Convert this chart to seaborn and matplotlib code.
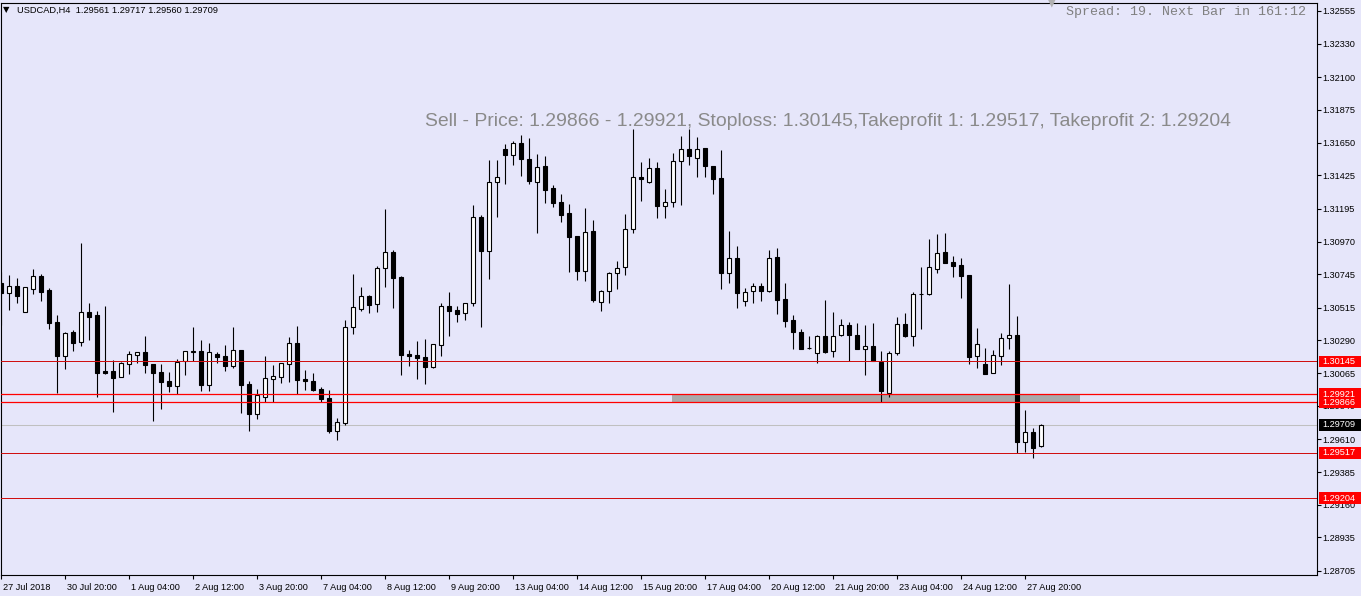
import matplotlib
matplotlib.use('Agg')
import matplotlib.pyplot as plt
import matplotlib.transforms as mtransforms
from matplotlib.patches import Rectangle
import numpy as np
import seaborn as sns

# USDCAD H4 candles, 27 Jul 2018 12:00 -> 28 Aug 2018 04:00
opens = [
    1.30685, 1.30616, 1.30665, 1.30485, 1.30644, 1.30734, 1.30637, 1.30417, 1.30183, 1.30348,
    1.30279, 1.30485, 1.30465, 1.30080, 1.30080, 1.30039, 1.30128, 1.30190, 1.30210, 1.30128,
    1.30073, 1.30011, 1.29976, 1.30149, 1.30213, 1.30217, 1.29983, 1.30197, 1.30183, 1.30114,
    1.30224, 1.29990, 1.29784, 1.29902, 1.30025, 1.30039, 1.30128, 1.30272, 1.30025, 1.30011,
    1.29956, 1.29894, 1.29667, 1.29722, 1.30382, 1.30506, 1.30596, 1.30541, 1.30788, 1.30898,
    1.30727, 1.30197, 1.30190, 1.30176, 1.30108, 1.30258, 1.30527, 1.30499, 1.30478, 1.30547,
    1.31139, 1.30905, 1.31379, 1.31606, 1.31565, 1.31648, 1.31537, 1.31379, 1.31489, 1.31338,
    1.31242, 1.31166, 1.31008, 1.30767, 1.31043, 1.30554, 1.30630, 1.30753, 1.30795, 1.31056,
    1.31414, 1.31379, 1.31475, 1.31214, 1.31242, 1.31524, 1.31606, 1.31544, 1.31613, 1.31489,
    1.31407, 1.30753, 1.30857, 1.30561, 1.30630, 1.30665, 1.30630, 1.30864, 1.30575, 1.30431,
    1.30348, 1.30238, 1.30204, 1.30320, 1.30217, 1.30327, 1.30397, 1.30327, 1.30231, 1.30252,
    1.30142, 1.29928, 1.30204, 1.30403, 1.30320, 1.30609, 1.30609, 1.30781, 1.30898, 1.30829,
    1.30809, 1.30740, 1.30183, 1.30128, 1.30066, 1.30183, 1.30307, 1.30327, 1.29594, 1.29658,
    1.29561]
highs = [
    1.30760, 1.30740, 1.30720, 1.30658, 1.30781, 1.30746, 1.30651, 1.30465, 1.30348, 1.30362,
    1.30960, 1.30547, 1.30492, 1.30527, 1.30156, 1.30142, 1.30217, 1.30210, 1.30320, 1.30128,
    1.30128, 1.30073, 1.30163, 1.30217, 1.30382, 1.30293, 1.30272, 1.30210, 1.30258, 1.30382,
    1.30224, 1.30011, 1.29956, 1.30183, 1.30121, 1.30135, 1.30313, 1.30389, 1.30087, 1.30066,
    1.29970, 1.29949, 1.29757, 1.30431, 1.30746, 1.30658, 1.30603, 1.30802, 1.31194, 1.30912,
    1.30734, 1.30224, 1.30286, 1.30300, 1.30265, 1.30547, 1.30623, 1.30527, 1.30547, 1.31221,
    1.31152, 1.31531, 1.31531, 1.31641, 1.31661, 1.31702, 1.31682, 1.31572, 1.31558, 1.31358,
    1.31297, 1.31228, 1.31008, 1.31201, 1.31118, 1.30637, 1.30760, 1.30836, 1.31159, 1.31744,
    1.31517, 1.31544, 1.31517, 1.31331, 1.31579, 1.31695, 1.31744, 1.31689, 1.31613, 1.31489,
    1.31599, 1.31043, 1.30939, 1.30651, 1.30685, 1.30685, 1.30912, 1.30926, 1.30685, 1.30465,
    1.30369, 1.30320, 1.30327, 1.30568, 1.30485, 1.30437, 1.30417, 1.30410, 1.30397, 1.30410,
    1.30217, 1.30217, 1.30451, 1.30478, 1.30623, 1.30795, 1.30988, 1.31022, 1.31029, 1.30870,
    1.30857, 1.30740, 1.30375, 1.30238, 1.30224, 1.30341, 1.30678, 1.30458, 1.29812, 1.29686,
    1.29717]
lows = [
    1.30397, 1.30499, 1.30547, 1.30485, 1.30609, 1.30561, 1.30369, 1.29928, 1.30094, 1.30217,
    1.30252, 1.30293, 1.29902, 1.30059, 1.29798, 1.30039, 1.30059, 1.30135, 1.30066, 1.29736,
    1.29819, 1.29935, 1.29921, 1.30052, 1.30149, 1.29942, 1.29942, 1.30135, 1.30080, 1.30101,
    1.29791, 1.29667, 1.29750, 1.29867, 1.29867, 1.29997, 1.30004, 1.29921, 1.29949, 1.29942,
    1.29867, 1.29654, 1.29606, 1.29709, 1.30334, 1.30492, 1.30478, 1.30485, 1.30658, 1.30513,
    1.30052, 1.30114, 1.30025, 1.29990, 1.30101, 1.30183, 1.30320, 1.30417, 1.30431, 1.30527,
    1.30382, 1.30713, 1.31139, 1.31365, 1.31496, 1.31421, 1.31365, 1.31029, 1.31235, 1.31207,
    1.31104, 1.30760, 1.30706, 1.30699, 1.30554, 1.30492, 1.30547, 1.30644, 1.30740, 1.31029,
    1.31249, 1.31372, 1.31132, 1.31132, 1.31207, 1.31221, 1.31496, 1.31414, 1.31414, 1.31297,
    1.30644, 1.30685, 1.30513, 1.30527, 1.30547, 1.30561, 1.30623, 1.30472, 1.30382, 1.30231,
    1.30231, 1.30231, 1.30135, 1.30204, 1.30176, 1.30320, 1.30149, 1.30231, 1.30052, 1.30149,
    1.29867, 1.29902, 1.30190, 1.30313, 1.30252, 1.30369, 1.30603, 1.30753, 1.30822, 1.30726,
    1.30582, 1.30128, 1.30101, 1.30059, 1.30066, 1.30121, 1.30231, 1.29514, 1.29525, 1.29483,
    1.29560]
closes = [
    1.30616, 1.30665, 1.30596, 1.30658, 1.30734, 1.30623, 1.30410, 1.30183, 1.30341, 1.30272,
    1.30485, 1.30451, 1.30066, 1.30066, 1.30032, 1.30135, 1.30197, 1.30207, 1.30121, 1.30066,
    1.30004, 1.29976, 1.30142, 1.30217, 1.30217, 1.29983, 1.30210, 1.30176, 1.30114, 1.30224,
    1.29983, 1.29784, 1.29915, 1.30032, 1.30046, 1.30135, 1.30272, 1.30018, 1.30011, 1.29949,
    1.29888, 1.29667, 1.29729, 1.30382, 1.30519, 1.30596, 1.30534, 1.30788, 1.30898, 1.30720,
    1.30190, 1.30183, 1.30169, 1.30108, 1.30265, 1.30527, 1.30492, 1.30472, 1.30547, 1.31139,
    1.30905, 1.31379, 1.31414, 1.31565, 1.31648, 1.31537, 1.31386, 1.31482, 1.31324, 1.31235,
    1.31152, 1.30999, 1.30767, 1.31036, 1.30568, 1.30630, 1.30753, 1.30788, 1.31056, 1.31414,
    1.31400, 1.31475, 1.31214, 1.31242, 1.31524, 1.31606, 1.31558, 1.31606, 1.31489, 1.31400,
    1.30753, 1.30857, 1.30616, 1.30623, 1.30665, 1.30630, 1.30857, 1.30568, 1.30424, 1.30348,
    1.30231, 1.30235, 1.30320, 1.30210, 1.30320, 1.30397, 1.30327, 1.30231, 1.30252, 1.30149,
    1.29942, 1.30204, 1.30403, 1.30320, 1.30609, 1.30609, 1.30795, 1.30891, 1.30822, 1.30802,
    1.30734, 1.30176, 1.30265, 1.30059, 1.30190, 1.30307, 1.30327, 1.29594, 1.29658, 1.29552,
    1.29709]

date_labels = ['27 Jul 2018', '30 Jul 20:00', '1 Aug 04:00', '2 Aug 12:00', '3 Aug 20:00',
               '7 Aug 04:00', '8 Aug 12:00', '9 Aug 20:00', '13 Aug 04:00', '14 Aug 12:00',
               '15 Aug 20:00', '17 Aug 04:00', '20 Aug 12:00', '21 Aug 20:00', '23 Aug 04:00',
               '24 Aug 12:00', '27 Aug 20:00']
price_ticks = [1.32555, 1.32330, 1.32100, 1.31875, 1.31650, 1.31425, 1.31195, 1.30970,
               1.30745, 1.30515, 1.30290, 1.30065, 1.29840, 1.29610, 1.29385, 1.29160,
               1.28935, 1.28705]

stoploss = 1.30145
entry_zone = [1.29866, 1.29921]
takeprofits = [1.29517, 1.29204]
bid = 1.29709
zone_bars = [84, 135]

BG = '#E6E6FA'
sns.set_style('ticks', rc={'axes.facecolor': BG, 'figure.facecolor': BG,
                           'axes.edgecolor': 'black', 'axes.linewidth': 0.8})
plt.rcParams['font.family'] = ['Liberation Sans', 'DejaVu Sans']

W, H = 1361, 596
fig = plt.figure(figsize=(W / 100, H / 100), dpi=100)
ax = fig.add_axes([0.5 / W, 21 / H, 1316.5 / W, 572 / H])

o = np.array(opens)
h = np.array(highs)
l = np.array(lows)
c = np.array(closes)
x = np.arange(len(o))
bull = c >= o

# wicks, then bodies
ax.vlines(x, l, h, color='black', linewidth=0.8, zorder=2)
ax.bar(x, np.abs(c - o), bottom=np.minimum(o, c), width=0.6,
       color=np.where(bull, 'white', 'black'), edgecolor='black', linewidth=0.8, zorder=3)

# entry zone rectangle
ax.add_patch(Rectangle((zone_bars[0] - 0.125, entry_zone[0]), zone_bars[1] - zone_bars[0],
                       entry_zone[1] - entry_zone[0], facecolor='#A9A9A9', edgecolor='none', zorder=1))

# levels
ax.axhline(bid, color='#C0C0C0', linewidth=0.75, zorder=1.5)
for lvl in [stoploss] + takeprofits:
    ax.axhline(lvl, color='#D01010', linewidth=0.72, zorder=4)
for lvl in entry_zone:
    ax.axhline(lvl, color='red', linewidth=0.9, zorder=4)

ax.set_xlim(-0.0625, 164.5)
ax.set_ylim(1.28677, 1.32610)

ax.yaxis.tick_right()
ax.set_yticks(price_ticks)
ax.set_yticklabels([f'{p:.5f}' for p in price_ticks])
ax.set_xticks(np.arange(0, 8 * len(date_labels), 8))
ax.set_xticklabels(date_labels)
ax.tick_params(axis='y', direction='out', length=3, width=0.8, pad=1.2, labelsize=6.6, colors='black')
ax.tick_params(axis='x', direction='out', length=3, width=0.8, pad=2.5, labelsize=6.6, colors='black')
offset = mtransforms.ScaledTranslation(1.5 / 72, 0, fig.dpi_scale_trans)
for lab in ax.get_xticklabels():
    lab.set_ha('left')
    lab.set_transform(lab.get_transform() + offset)
for s in ax.spines.values():
    s.set_visible(True)
    s.set_color('black')

# price labels on the right scale
trans = mtransforms.blended_transform_factory(ax.transAxes, ax.transData)
half = 6 * 6.875e-5
boxes = [(stoploss, 'red'), (entry_zone[1], 'red'), (entry_zone[0], 'red'),
         (bid, 'black'), (takeprofits[0], 'red'), (takeprofits[1], 'red')]
for lvl, col in boxes:
    ax.add_patch(Rectangle((1.0016, lvl - half), 0.0319, 2 * half, transform=trans,
                           facecolor=col, edgecolor='none', clip_on=False, zorder=6))
    ax.text(1.0042, lvl, f'{lvl:.5f}', transform=trans, ha='left', va='center',
            fontsize=6.6, color='white', zorder=7, clip_on=False)

# header texts
fig.text(3 / W, 1 - 10 / H, '▼', fontsize=6, family='DejaVu Sans', va='center', color='black')
fig.text(17 / W, 1 - 10.5 / H, 'USDCAD,H4  1.29561 1.29717 1.29560 1.29709',
         fontsize=6.7, va='center', color='black')
fig.text(1047 / W, 1 - 2 / H, '▼', fontsize=9, family='DejaVu Sans', va='center', color='#B0B0B0')
fig.text(1066 / W, 1 - 12 / H, 'Spread: 19. Next Bar in 161:12', family='Liberation Mono',
         fontsize=9.6, va='center', color='#808080')
fig.text(425 / W, 1 - 121 / H,
         'Sell - Price: 1.29866 - 1.29921, Stoploss: 1.30145,Takeprofit 1: 1.29517, Takeprofit 2: 1.29204',
         fontsize=13.95, va='center', color='#8A8A8A')

fig.savefig('out.png', dpi=100, facecolor=BG)
plt.close(fig)
